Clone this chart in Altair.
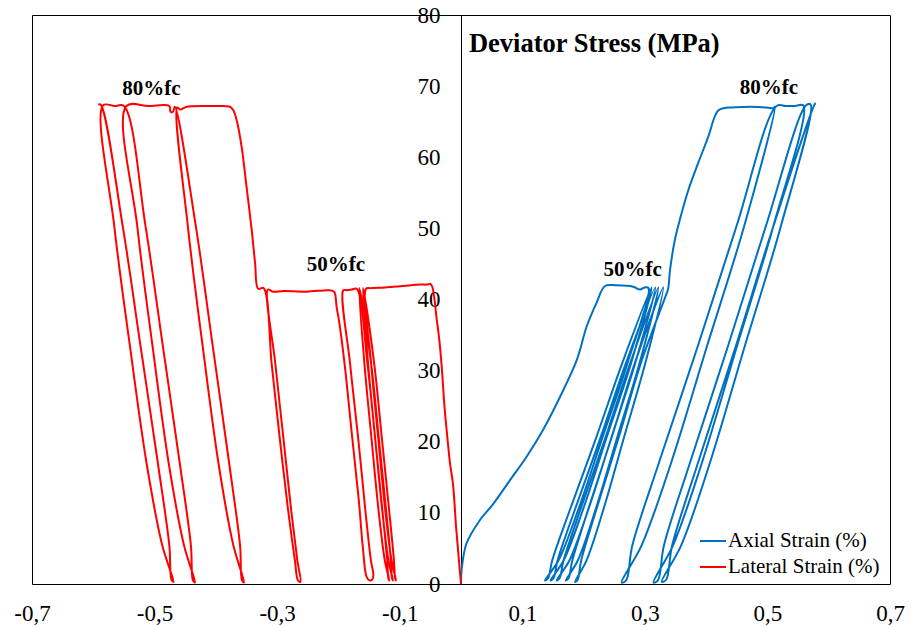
import altair as alt
import pandas as pd

# Cyclic loading test: deviator stress (MPa) against strain (%).
# Each list is one stretch of the recorded path as [strain, stress] pairs.

# ---------------- axial strain ----------------
axial_initial = [[0.000, 0.0], [0.001, 2.0], [0.009, 5.7], [0.031, 9.0], [0.053, 11.3],
                 [0.080, 14.6], [0.107, 17.9], [0.134, 21.7], [0.1615, 26.3], [0.189, 31.5],
                 [0.205, 36.2], [0.221, 39.5], [0.235, 41.9]]
axial_hold_50 = [[0.254, 42.0], [0.281, 41.8], [0.292, 41.4], [0.300, 41.7], [0.306, 41.6]]
axial_cycles_50 = [
    [0.2722, 31.2], [0.2316, 20.8], [0.1911, 10.4], [0.159, 3.3], [0.137, 0.5],
    [0.1421, 0.8], [0.1488, 3.3], [0.1776, 10.4], [0.2215, 20.8], [0.2637, 31.2], [0.311, 41.7],
    [0.278, 31.2], [0.2384, 20.8], [0.1988, 10.4], [0.1674, 3.3], [0.146, 0.5],
    [0.151, 0.8], [0.1575, 3.3], [0.1856, 10.4], [0.2285, 20.8], [0.2697, 31.2], [0.317, 41.7],
    [0.2848, 31.2], [0.2462, 20.8], [0.2075, 10.4], [0.1769, 3.3], [0.156, 0.5],
    [0.1608, 0.8], [0.1673, 3.3], [0.1946, 10.4], [0.2365, 20.8], [0.2767, 31.2], [0.322, 41.7],
    [0.2918, 31.2], [0.2556, 20.8], [0.2193, 10.4], [0.1906, 3.3], [0.171, 0.5],
    [0.1755, 0.8], [0.1816, 3.3], [0.2072, 10.4], [0.2465, 20.8], [0.2842, 31.2], [0.330, 41.7],
    [0.3012, 31.2], [0.2666, 20.8], [0.2321, 10.4], [0.2047, 3.3], [0.186, 0.3],
    [0.1903, 0.6], [0.1961, 3.3], [0.2206, 10.4], [0.258, 20.8], [0.294, 31.2], [0.334, 40.5],
    [0.338, 41.5],
]
axial_rise_80 = [[0.341, 44.1], [0.349, 48.4], [0.357, 51.2], [0.371, 55.4], [0.387, 59.2],
                 [0.4035, 62.9], [0.414, 65.7], [0.420, 66.6], [0.428, 66.9]]
axial_hold_80 = [[0.444, 67.0], [0.4715, 67.1], [0.499, 67.0], [0.5095, 66.9], [0.512, 67.1]]
axial_cycles_80 = [
    [0.462, 50.3], [0.402, 33.6], [0.342, 16.8], [0.2945, 5.4], [0.262, 0.2],
    [0.2695, 0.5], [0.2795, 5.4], [0.322, 16.8], [0.387, 33.6], [0.4495, 50.3], [0.515, 67.2],
    [0.530, 67.2], [0.545, 67.2], [0.5585, 67.3],
    [0.5096, 50.3], [0.4509, 33.6], [0.3922, 16.8], [0.3458, 5.4], [0.314, 0.2],
    [0.3213, 0.5], [0.3311, 5.4], [0.3727, 16.8], [0.4362, 33.6], [0.4974, 50.3], [0.563, 67.3],
    [0.5705, 67.4],
    [0.5219, 50.3], [0.4636, 33.6], [0.4053, 16.8], [0.3591, 5.4], [0.3275, 0.3],
    [0.3348, 0.6], [0.3445, 5.4], [0.3858, 16.8], [0.449, 33.6], [0.5097, 50.3], [0.5775, 67.5],
    [0.579, 67.6],
]

# ---------------- lateral strain ----------------
lateral_initial = [[0.000, 0.0], [-0.003, 3.0], [-0.008, 8.0], [-0.013, 14.0], [-0.018, 17.0],
                   [-0.021, 19.5], [-0.027, 25.0], [-0.031, 30.0], [-0.035, 34.0],
                   [-0.040, 37.5], [-0.044, 40.5], [-0.047, 41.8], [-0.050, 42.2]]
lateral_hold_50 = [[-0.055, 42.1], [-0.067, 42.1], [-0.095, 41.9], [-0.124, 41.7],
                   [-0.148, 41.6], [-0.155, 41.5]]
lateral_cycles_50 = [
    [-0.1467, 31.1], [-0.1354, 20.8], [-0.1236, 10.4], [-0.1133, 3.3], [-0.106, 0.5],
    [-0.1075, 0.8], [-0.1094, 3.3], [-0.1173, 10.4], [-0.1295, 20.8], [-0.1418, 31.1], [-0.160, 41.6],
    [-0.1517, 31.1], [-0.1404, 20.8], [-0.1286, 10.4], [-0.1183, 3.3], [-0.111, 0.5],
    [-0.1125, 0.8], [-0.1144, 3.3], [-0.1223, 10.4], [-0.1345, 20.8], [-0.1468, 31.1], [-0.166, 41.6],
    [-0.1577, 31.1], [-0.1464, 20.8], [-0.1346, 10.4], [-0.1243, 3.3], [-0.117, 0.5],
    [-0.1185, 0.8], [-0.1204, 3.3], [-0.1283, 10.4], [-0.1405, 20.8], [-0.1528, 31.1], [-0.170, 41.5],
    [-0.178, 41.4], [-0.186, 41.3], [-0.192, 41.3],
    [-0.181, 31.0], [-0.168, 20.7], [-0.156, 10.3], [-0.147, 3.3], [-0.143, 1.3], [-0.145, 0.6],
    [-0.149, 0.5],
    [-0.154, 1.0], [-0.160, 5.0], [-0.167, 12.0], [-0.178, 21.0], [-0.190, 31.0], [-0.199, 37.0],
    [-0.203, 39.0], [-0.205, 40.6], [-0.207, 41.1],
    [-0.214, 41.3], [-0.252, 41.1], [-0.290, 41.2], [-0.307, 41.1], [-0.315, 41.4],
    [-0.303, 31.0], [-0.290, 20.7], [-0.277, 10.3], [-0.267, 3.3], [-0.262, 0.3],
    [-0.266, 0.5], [-0.271, 3.3], [-0.282, 10.3], [-0.296, 20.7], [-0.309, 31.0], [-0.322, 41.6],
    [-0.331, 41.5],
]
lateral_rise_80 = [[-0.336, 45.1], [-0.3415, 49.8], [-0.350, 55.9], [-0.358, 61.5],
                   [-0.366, 65.2], [-0.3715, 66.6], [-0.377, 67.1]]
lateral_hold_80 = [[-0.404, 67.2], [-0.4475, 67.1], [-0.458, 66.7], [-0.463, 67.0]]
lateral_cycles_80 = [
    [-0.4456, 50.2], [-0.4216, 33.5], [-0.3954, 16.8], [-0.3714, 5.4], [-0.354, 0.2],
    [-0.3573, 0.5], [-0.3605, 5.4], [-0.378, 16.8], [-0.4052, 33.5], [-0.4325, 50.2], [-0.467, 67.1],
    [-0.470, 66.4], [-0.474, 66.4], [-0.476, 67.2], [-0.510, 67.2], [-0.546, 67.2],
    [-0.5281, 50.2], [-0.5034, 33.5], [-0.4766, 16.8], [-0.4519, 5.4], [-0.434, 0.2],
    [-0.4374, 0.5], [-0.4407, 5.4], [-0.4586, 16.8], [-0.4866, 33.5], [-0.5146, 50.2], [-0.550, 67.2],
    [-0.565, 67.2], [-0.584, 67.3],
    [-0.5656, 50.2], [-0.5403, 33.5], [-0.5127, 16.8], [-0.4874, 5.4], [-0.469, 0.3],
    [-0.4724, 0.6], [-0.4759, 5.4], [-0.4943, 16.8], [-0.523, 33.5], [-0.5518, 50.2], [-0.588, 67.4],
    [-0.592, 67.4],
]

series_names = ["Axial Strain (%)", "Lateral Strain (%)"]
series_colors = ["#0070C0", "#FF0000"]

x_ticks = [-0.7, -0.5, -0.3, -0.1, 0.1, 0.3, 0.5, 0.7]
y_ticks = [0, 10, 20, 30, 40, 50, 60, 70, 80]

title_text = ["Deviator Stress (MPa)"]
title_x = [0.013]
title_y = [75.9]

note_text = ["80%fc", "50%fc", "50%fc", "80%fc"]
note_x = [-0.505, -0.204, 0.280, 0.5025]
note_y = [69.6, 44.9, 44.1, 69.7]

# Assemble the path table in recorded order
rows = []
paths = {
    series_names[0]: [axial_initial, axial_hold_50, axial_cycles_50, axial_rise_80,
                      axial_hold_80, axial_cycles_80],
    series_names[1]: [lateral_initial, lateral_hold_50, lateral_cycles_50, lateral_rise_80,
                      lateral_hold_80, lateral_cycles_80],
}
for name, segs in paths.items():
    step = 0
    for seg in segs:
        for strain, stress in seg:
            rows.append({"series": name, "step": step, "strain": strain, "stress": stress})
            step += 1
curves = pd.DataFrame(rows)

FONT = "Liberation Serif"
x_scale = alt.Scale(domain=[-0.7, 0.7], nice=False, zero=False)
y_scale = alt.Scale(domain=[0, 80], nice=False)

# decimal comma and a plain hyphen for the minus sign
x_label_expr = "replace(replace(format(datum.value, '.1f'), '.', ','), '\u2212', '-')"

lines = alt.Chart(curves).mark_line(
    strokeWidth=2, strokeJoin="round", interpolate="catmull-rom"
).encode(
    x=alt.X("strain:Q", scale=x_scale, axis=alt.Axis(
        values=x_ticks, title=None, grid=False, ticks=False, domain=False,
        labelExpr=x_label_expr,
        labelFont=FONT, labelFontSize=23, labelColor="black",
        labelPadding=18, labelFlush=False)),
    y=alt.Y("stress:Q", scale=y_scale, axis=alt.Axis(
        values=y_ticks, title=None, grid=False, ticks=False, domain=True,
        domainColor="black", domainWidth=1, offset=-429,
        labelFont=FONT, labelFontSize=23, labelColor="black", labelPadding=21)),
    color=alt.Color("series:N", scale=alt.Scale(domain=series_names, range=series_colors),
                    legend=alt.Legend(title=None, orient="none", legendX=667, legendY=512,
                                      symbolType="stroke", symbolSize=676, symbolStrokeWidth=2,
                                      labelFont=FONT, labelFontSize=21, labelColor="black",
                                      labelOffset=1, rowPadding=2, padding=0)),
    order="step:Q",
)

title_df = pd.DataFrame({"text": title_text, "x": title_x, "y": title_y})
title_layer = alt.Chart(title_df).mark_text(
    font=FONT, fontSize=26.5, fontWeight="bold", align="left", baseline="middle", color="black"
).encode(x=alt.X("x:Q", scale=x_scale), y=alt.Y("y:Q", scale=y_scale), text="text:N")

notes_df = pd.DataFrame({"text": note_text, "x": note_x, "y": note_y})
notes_layer = alt.Chart(notes_df).mark_text(
    font=FONT, fontSize=21, fontWeight="bold", align="center", baseline="middle", color="black"
).encode(x=alt.X("x:Q", scale=x_scale), y=alt.Y("y:Q", scale=y_scale), text="text:N")

chart = alt.layer(lines, title_layer, notes_layer).properties(
    width=858, height=569,
    autosize=alt.AutoSizeParams(type="none"),
    padding={"left": 32, "top": 15, "right": 26, "bottom": 43},
    background="white",
).configure_view(stroke="black", strokeWidth=1)

chart.save("out.html", embed_options={"renderer": "svg", "actions": False})
